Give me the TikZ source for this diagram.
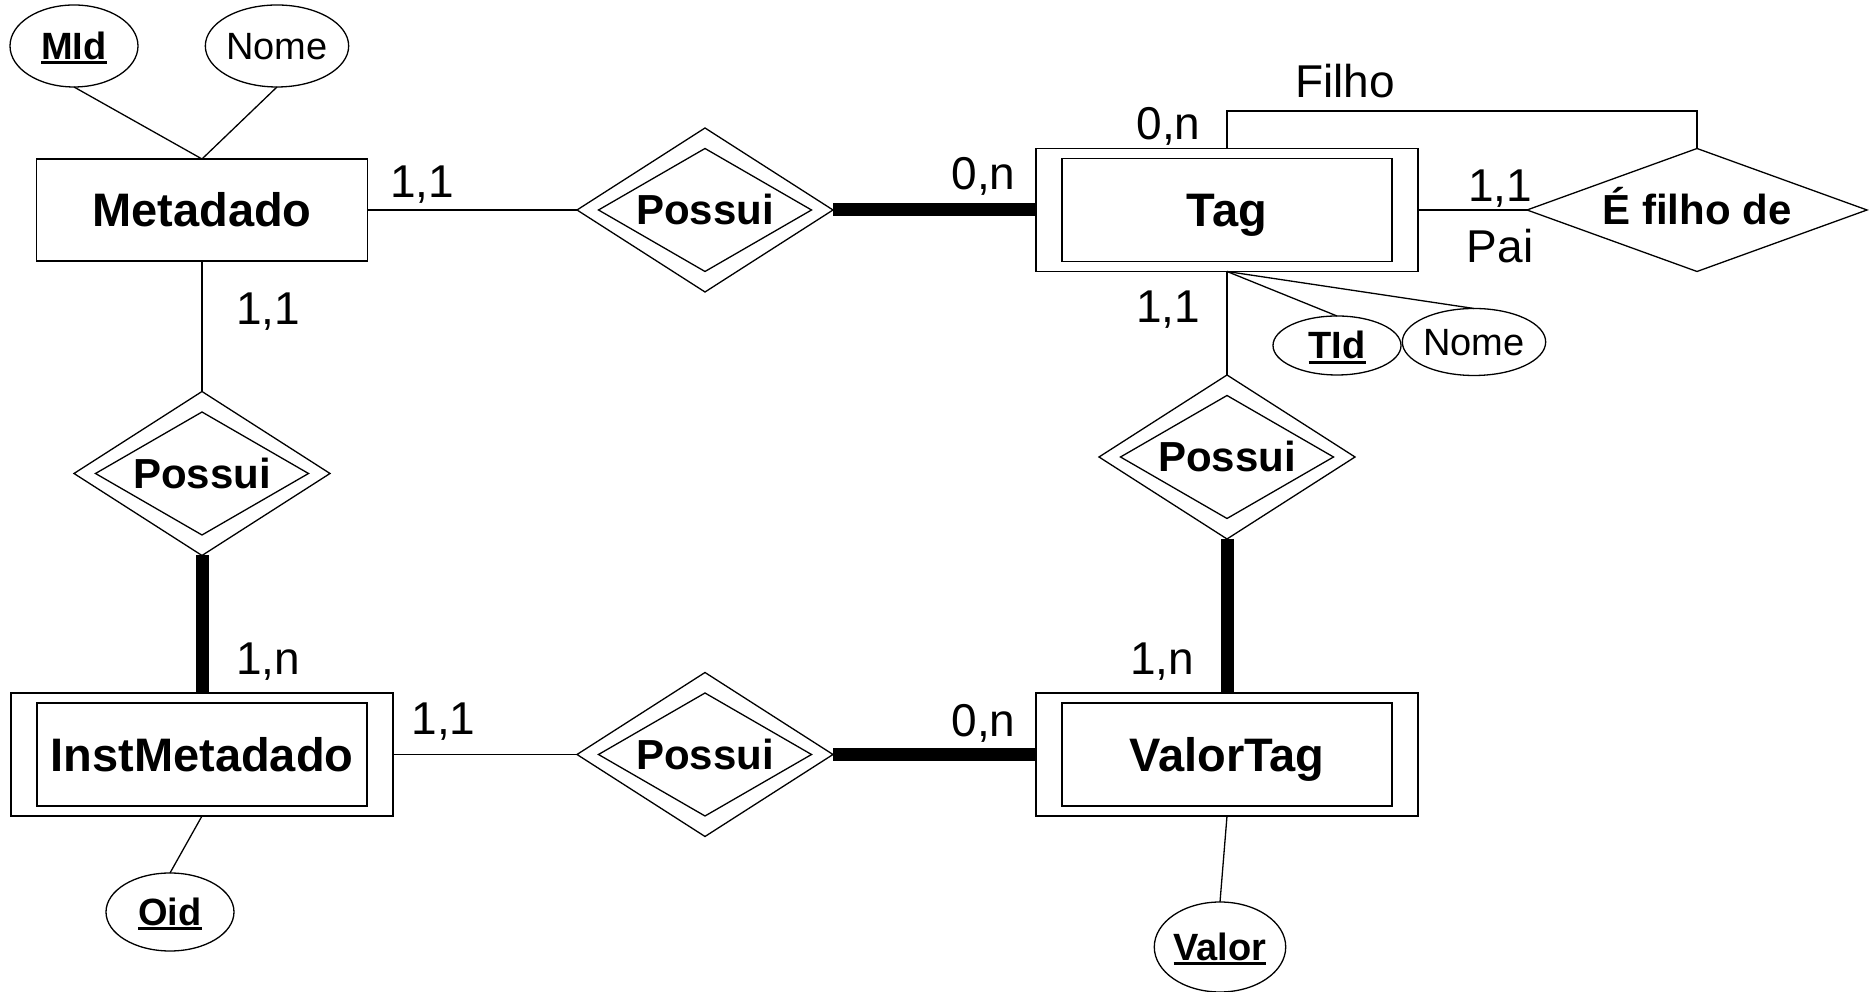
\documentclass[tikz,border=0pt]{standalone}
\usepackage{fontspec}
\setmainfont{Liberation Sans}
\usepackage{tikz}
\usetikzlibrary{calc}
\usetikzlibrary{shapes.geometric}
\newcommand{\chave}[1]{\setbox0\hbox{\bfseries #1}\rlap{\rule[-5pt]{\wd0}{3pt}}\box0}
\tikzset{
    link/.style={line width=1.3pt},
    heavy/.style={line width=13pt},
    entity/.style={draw,line width=1.3pt,rectangle,minimum width=331pt,minimum height=102pt,inner sep=0pt,outer sep=0pt,text height=34pt,text depth=0pt,font=\fontsize{47}{56}\selectfont\bfseries},
    weak/.style={entity,minimum width=382pt,minimum height=123pt},
    relship/.style={draw,line width=1.3pt,diamond,aspect=1.56,minimum width=256pt,minimum height=164pt,inner sep=0pt,outer sep=0pt,text height=30pt,text depth=0pt,font=\fontsize{42}{50}\selectfont\bfseries},
    attrib/.style={draw,line width=1.3pt,ellipse,minimum width=128pt,inner sep=0pt,outer sep=0pt,text height=27pt,text depth=0pt,font=\fontsize{38}{46}\selectfont},
    card/.style={anchor=base,inner sep=0pt,font=\fontsize{46}{55}\selectfont}
}

\begin{document}
\begin{tikzpicture}[line join=miter,x=1pt,y=1pt]
    \useasboundingbox (0,0) rectangle (1873,992);
    % entidades
    \node[entity] (meta) at (202,782) {Metadado};
    \node[weak] (tag) at (1227,782) {Tag};
    \node[weak] (inst) at (202,237.5) {InstMetadado};
    \node[weak] (valtag) at (1227,237.5) {ValorTag};
    \foreach \ent in {tag,inst,valtag}
        \draw[link] ($(\ent.south west)+(26,10)$) rectangle ($(\ent.north east)+(-26,-10)$);
    % relacionamentos
    \node[relship] (possuiMT) at (705,782) {Possui};
    \node[relship] (possuiMI) at (202,518.5) {Possui};
    \node[relship] (possuiTV) at (1227,535) {Possui};
    \node[relship] (possuiIV) at (705,237.5) {Possui};
    \foreach \rel in {possuiMT,possuiMI,possuiTV,possuiIV}
        \draw[link] ($(\rel)+(-106.5,0)$) -- ($(\rel)+(0,61.5)$) -- ($(\rel)+(106.5,0)$) -- ($(\rel)+(0,-61.5)$) -- cycle;
    \node[relship,aspect=2.76,minimum width=340pt,minimum height=123pt] (filho) at (1697,782) {É filho de};
    % atributos
    \node[attrib,minimum height=82pt] (mid) at (74,946) {\chave{MId}};
    \node[attrib,minimum height=82pt] (mnome) at (277,946) {Nome};
    \node[attrib,minimum height=59pt] (tid) at (1337,646.5) {\chave{TId}};
    \node[attrib,minimum height=67pt] (tnome) at (1474,650) {Nome};
    \node[attrib,minimum height=78pt] (oid) at (170,80) {\chave{Oid}};
    \node[attrib,minimum height=90pt] (valor) at (1220,45) {\chave{Valor}};
    % ligacoes
    \draw[link] (meta) -- (possuiMT);
    \draw[heavy] (possuiMT) -- (tag);
    \draw[link] (meta) -- (possuiMI);
    \draw[heavy] (possuiMI) -- (inst);
    \draw[link] (inst) -- (possuiIV);
    \draw[heavy] (possuiIV) -- (valtag);
    \draw[link] (tag) -- (possuiTV);
    \draw[heavy] (possuiTV) -- (valtag);
    \draw[link] (tag) -- (filho);
    \draw[link] (tag.north) -- ++(0,37.5) -| (filho.north);
    \draw[link] (mid.south) -- (meta.north);
    \draw[link] (mnome.south) -- (meta.north);
    \draw[link] (tag.south) -- (tid.north);
    \draw[link] (tag.south) -- (tnome.north);
    \draw[link] (inst.south) -- (oid.north);
    \draw[link] (valtag.south) -- (valor.north);
    % cardinalidades e papeis
    \node[card] (cMetaMT) at (422,794) {1,1};
    \node[card] (cTagMT) at (983.5,802) {0,n};
    \node[card] (cMetaMI) at (268,667) {1,1};
    \node[card] (cInstMI) at (268,317) {1,n};
    \node[card] (cInstIV) at (443.5,257) {1,1};
    \node[card] (cValIV) at (983.5,255) {0,n};
    \node[card] (cTagTV) at (1168,669) {1,1};
    \node[card] (cValTV) at (1162,317) {1,n};
    \node[card] (cFilho) at (1168.5,852) {0,n};
    \node[card] (cPai) at (1500,790) {1,1};
    \node[card] (rFilho) at (1345,894) {Filho};
    \node[card] (rPai) at (1500,729) {Pai};
\end{tikzpicture}
\end{document}
